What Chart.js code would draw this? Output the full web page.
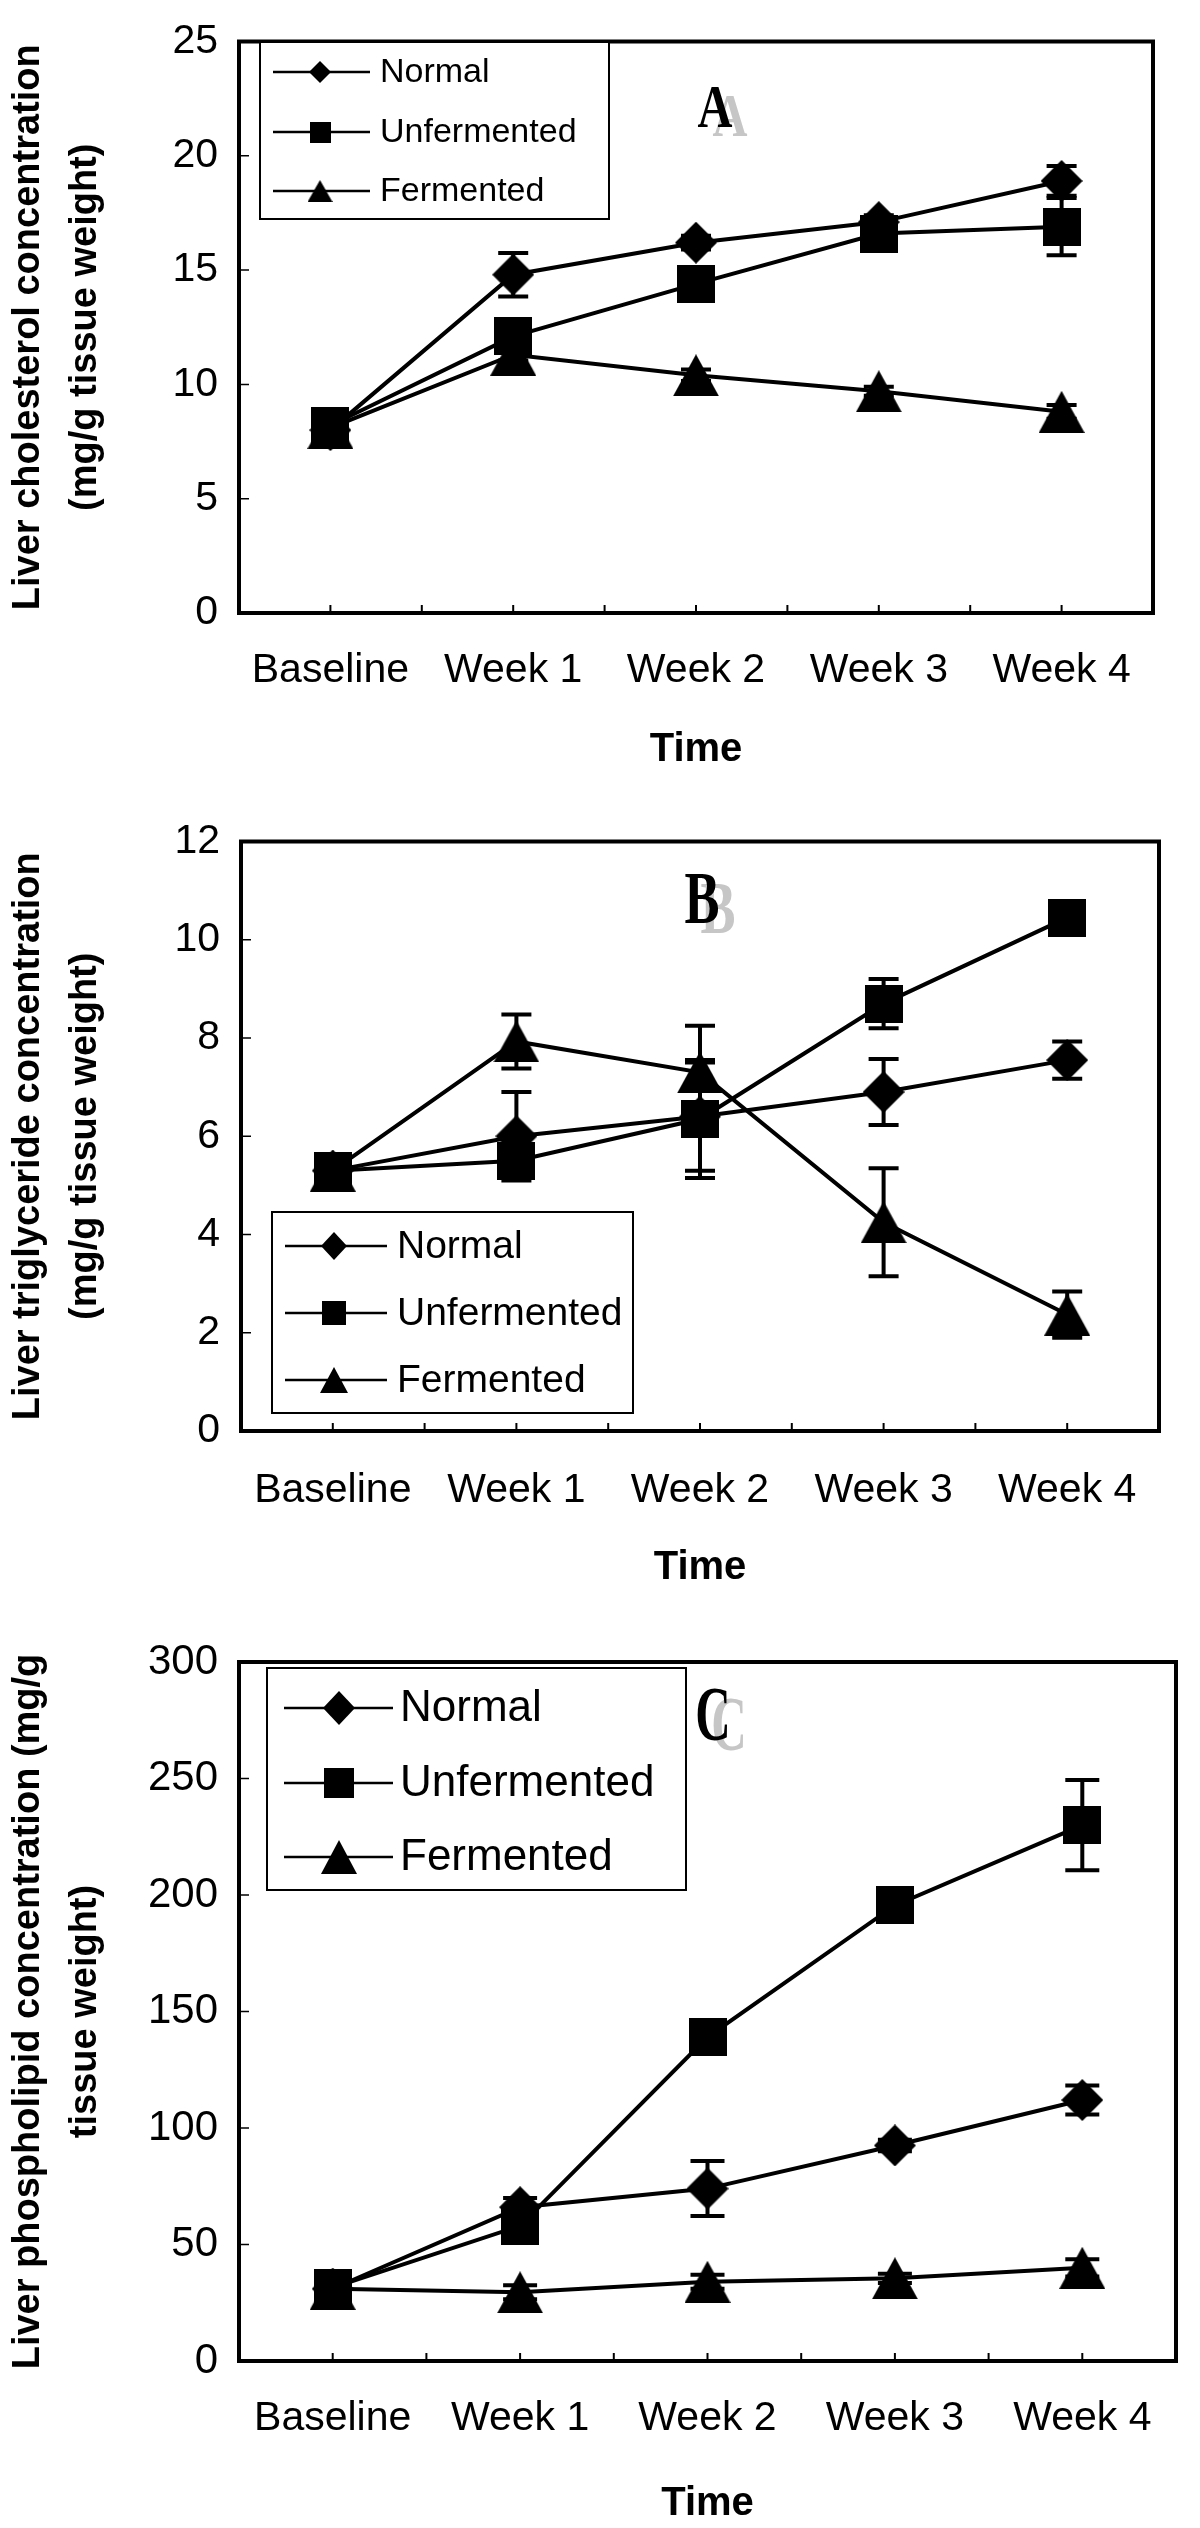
<!DOCTYPE html>
<html>
<head>
<meta charset="utf-8">
<script src="https://cdn.jsdelivr.net/npm/chart.js@4.4.0/dist/chart.umd.min.js"></script>
<style>
  body { margin: 0; background: #fff; }
  #page { position: relative; width: 1200px; height: 2528px; background: #fff; }
  canvas { position: absolute; left: 0; }
</style>
</head>
<body>
<div id="page">
  <canvas id="chartA" width="1200" height="800" style="top:0"></canvas>
  <canvas id="chartB" width="1200" height="820" style="top:800px"></canvas>
  <canvas id="chartC" width="1200" height="908" style="top:1620px"></canvas>
</div>
<script>
// categories
const timeLabels = ['Baseline', 'Week 1', 'Week 2', 'Week 3', 'Week 4'];
const groupNames = ['Normal', 'Unfermented', 'Fermented'];

// A - liver cholesterol (mg/g tissue weight)
const cholNormal = [8.0, 14.8, 16.2, 17.1, 18.9];
const cholNormalErr = [0.3, 0.95, 0.3, 0.3, 0.65];
const cholUnferm = [8.2, 12.1, 14.4, 16.6, 16.9];
const cholUnfermErr = [0.3, 0.4, 0.5, 0.3, 1.25];
const cholFerm = [8.1, 11.3, 10.4, 9.7, 8.8];
const cholFermErr = [0.3, 0.25, 0.25, 0.2, 0.3];

// B - liver triglyceride
const tgNormal = [5.3, 6.0, 6.4, 6.9, 7.55];
const tgNormalErr = [0.2, 0.9, 1.1, 0.67, 0.38];
const tgUnferm = [5.3, 5.5, 6.35, 8.7, 10.45];
const tgUnfermErr = [0.2, 0.2, 1.2, 0.5, 0.2];
const tgFerm = [5.3, 7.93, 7.3, 4.25, 2.37];
const tgFermErr = [0.2, 0.55, 0.95, 1.1, 0.47];

// C - liver phospholipid
const plNormal = [31, 66, 74, 92.5, 112];
const plNormalErr = [3, 4, 11.8, 2.5, 6.2];
const plUnferm = [31.5, 58, 139, 195.5, 230];
const plUnfermErr = [3, 3, 3, 3, 19.4];
const plFerm = [31, 29.5, 34, 35.5, 40];
const plFermErr = [3, 3, 3, 2, 3.7];

const SANS = "'Liberation Sans', Arial, sans-serif";
Chart.defaults.font.family = SANS;
Chart.defaults.color = '#000';

function marker(shape, w, h) {
  const c = document.createElement('canvas');
  c.width = w; c.height = h;
  const g = c.getContext('2d');
  g.fillStyle = '#000';
  g.beginPath();
  if (shape === 'diamond') {
    g.moveTo(w / 2, 0); g.lineTo(w, h / 2); g.lineTo(w / 2, h); g.lineTo(0, h / 2);
  } else if (shape === 'square') {
    g.rect(0, 0, w, h);
  } else {
    g.moveTo(w / 2, 0); g.lineTo(w, h); g.lineTo(0, h);
  }
  g.closePath();
  g.fill();
  return c;
}

const plotMarkers = [marker('diamond', 42, 42), marker('square', 38, 38), marker('triangle', 46, 42)];

// box around plot area + inward tick marks
const frame = {
  id: 'frame',
  beforeDatasetsDraw(chart) {
    const {ctx, chartArea: a, scales: {x, y}} = chart;
    ctx.save();
    ctx.strokeStyle = '#000';
    ctx.lineWidth = 1.5;
    ctx.beginPath();
    y.ticks.forEach(t => {
      const py = y.getPixelForValue(t.value);
      ctx.moveTo(a.left, py); ctx.lineTo(a.left + 10, py);
    });
    ctx.stroke();
    ctx.lineWidth = 2;
    ctx.beginPath();
    const n = x.ticks.length;
    for (let i = 0; i < n; i++) {
      const px = x.getPixelForTick(i);
      ctx.moveTo(px, a.bottom); ctx.lineTo(px, a.bottom - 8);
      if (i > 0) {
        const mid = (px + x.getPixelForTick(i - 1)) / 2;
        ctx.moveTo(mid, a.bottom); ctx.lineTo(mid, a.bottom - 8);
      }
    }
    ctx.stroke();
    ctx.lineWidth = 4;
    ctx.strokeRect(a.left, a.top, a.right - a.left, a.bottom - a.top);
    ctx.restore();
  }
};

const errorBars = {
  id: 'errorBars',
  beforeDatasetsDraw(chart, args, opts) {
    const ctx = chart.ctx, y = chart.scales.y;
    ctx.save();
    ctx.strokeStyle = '#000';
    ctx.lineWidth = 4;
    chart.data.datasets.forEach((ds, i) => {
      chart.getDatasetMeta(i).data.forEach((pt, j) => {
        const v = ds.data[j], e = ds.errors[j];
        const top = y.getPixelForValue(v + e), bot = y.getPixelForValue(v - e);
        ctx.beginPath();
        ctx.moveTo(pt.x, top); ctx.lineTo(pt.x, bot);
        ctx.moveTo(pt.x - opts.cap, top); ctx.lineTo(pt.x + opts.cap, top);
        ctx.moveTo(pt.x - opts.cap, bot); ctx.lineTo(pt.x + opts.cap, bot);
        ctx.stroke();
      });
    });
    ctx.restore();
  }
};

const boxLegend = {
  id: 'boxLegend',
  afterDatasetsDraw(chart, args, o) {
    const ctx = chart.ctx;
    ctx.save();
    ctx.fillStyle = '#fff';
    ctx.fillRect(o.box[0], o.box[1], o.box[2], o.box[3]);
    ctx.strokeStyle = '#000';
    ctx.lineWidth = 2;
    ctx.strokeRect(o.box[0], o.box[1], o.box[2], o.box[3]);
    ctx.font = o.fontSize + 'px ' + SANS;
    ctx.textBaseline = 'middle';
    ctx.fillStyle = '#000';
    chart.data.datasets.forEach((ds, i) => {
      const yy = o.rows[i];
      ctx.lineWidth = 2.5;
      ctx.beginPath(); ctx.moveTo(o.line[0], yy); ctx.lineTo(o.line[1], yy); ctx.stroke();
      const m = o.markers[i];
      ctx.drawImage(m, o.mx - m.width / 2, yy - m.height / 2);
      ctx.fillText(ds.label, o.tx, yy + 1);
    });
    ctx.restore();
  }
};

const panelLetter = {
  id: 'panelLetter',
  afterDraw(chart, args, o) {
    const ctx = chart.ctx;
    ctx.save();
    ctx.font = 'bold ' + o.size + "px 'Liberation Serif', 'Times New Roman', serif";
    ctx.textAlign = 'center';
    ctx.textBaseline = 'alphabetic';
    [[o.dx, o.dy, '#c6c6c6'], [0, 0, '#000']].forEach(([dx, dy, col]) => {
      ctx.save();
      ctx.translate(o.x + dx, o.y + dy);
      ctx.scale(o.sx, 1);
      ctx.fillStyle = col;
      ctx.fillText(o.text, 0, 0);
      ctx.restore();
    });
    ctx.restore();
  }
};

function makeChart(id, p) {
  const sets = [
    [groupNames[0], p.normal, p.normalErr],
    [groupNames[1], p.unferm, p.unfermErr],
    [groupNames[2], p.ferm, p.fermErr]
  ];
  return new Chart(document.getElementById(id), {
    type: 'line',
    data: {
      labels: timeLabels,
      datasets: sets.map((s, i) => ({
        label: s[0],
        data: s[1],
        errors: s[2],
        borderColor: '#000',
        borderWidth: 4,
        tension: 0,
        fill: false,
        pointStyle: plotMarkers[i],
        pointRadius: 20,
        pointHoverRadius: 20
      }))
    },
    options: {
      responsive: false,
      animation: false,
      events: [],
      layout: { padding: { left: 0, top: p.top, right: 1200 - p.right, bottom: 0 } },
      scales: {
        x: {
          type: 'category',
          offset: true,
          grid: { display: false, drawTicks: false },
          border: { display: false },
          ticks: { padding: p.xPad, autoSkip: false, maxRotation: 0, color: '#000',
                   font: { size: 41, lineHeight: 1.2 } },
          title: { display: true, text: 'Time', color: '#000',
                   font: { size: 40, weight: 'bold', lineHeight: 1.2 },
                   padding: { top: 0, bottom: p.timePad } },
          afterFit: s => { s.height = p.h - p.bottom; }
        },
        y: {
          min: 0, max: p.max,
          grid: { display: false, drawTicks: false },
          border: { display: false },
          ticks: { stepSize: p.step, padding: 21, color: '#000',
                   font: { size: p.yFont, lineHeight: 1 } },
          title: { display: true, text: p.yTitle, color: '#000',
                   font: { size: 38, weight: 'bold', lineHeight: 1.5 }, padding: 0 },
          afterFit: s => { s.width = p.left; }
        }
      },
      plugins: {
        legend: { display: false },
        tooltip: { enabled: false },
        errorBars: { cap: p.cap },
        boxLegend: p.legend,
        panelLetter: p.letter
      }
    },
    plugins: [frame, errorBars, boxLegend, panelLetter]
  });
}

makeChart('chartA', {
  h: 800, top: 24, bottom: 613, left: 239, right: 1153,
  max: 25, step: 5, yFont: 41, xPad: 33, timePad: 26, cap: 15,
  yTitle: ['Liver cholesterol concentration', '(mg/g tissue weight)'],
  normal: cholNormal, normalErr: cholNormalErr,
  unferm: cholUnferm, unfermErr: cholUnfermErr,
  ferm: cholFerm, fermErr: cholFermErr,
  legend: { box: [260, 42, 349, 177], rows: [72, 132, 191], line: [273, 370], mx: 320, tx: 380, fontSize: 34,
            markers: [marker('diamond', 22, 22), marker('square', 21, 21), marker('triangle', 25, 22)] },
  letter: { text: 'A', x: 715, y: 127, size: 62, sx: 0.78, dx: 15, dy: 9 }
});

makeChart('chartB', {
  h: 820, top: 38, bottom: 631, left: 241, right: 1159,
  max: 12, step: 2, yFont: 41, xPad: 35, timePad: 28, cap: 15,
  yTitle: ['Liver triglyceride concentration', '(mg/g tissue weight)'],
  normal: tgNormal, normalErr: tgNormalErr,
  unferm: tgUnferm, unfermErr: tgUnfermErr,
  ferm: tgFerm, fermErr: tgFermErr,
  legend: { box: [272, 412, 361, 201], rows: [446, 513, 580], line: [285, 387], mx: 334, tx: 397, fontSize: 39,
            markers: [marker('diamond', 26, 28), marker('square', 24, 24), marker('triangle', 28, 26)] },
  letter: { text: 'B', x: 702, y: 123, size: 75, sx: 0.70, dx: 16, dy: 10 }
});

makeChart('chartC', {
  h: 908, top: 29, bottom: 741, left: 239, right: 1199,
  max: 300, step: 50, yFont: 42, xPad: 33, timePad: 0, cap: 17,
  yTitle: ['Liver phospholipid concentration (mg/g', 'tissue weight)'],
  normal: plNormal, normalErr: plNormalErr,
  unferm: plUnferm, unfermErr: plUnfermErr,
  ferm: plFerm, fermErr: plFermErr,
  legend: { box: [267, 48, 419, 222], rows: [88, 163, 237], line: [284, 393], mx: 339, tx: 400, fontSize: 44,
            markers: [marker('diamond', 32, 34), marker('square', 30, 30), marker('triangle', 36, 34)] },
  letter: { text: 'C', x: 713, y: 120, size: 78, sx: 0.63, dx: 16, dy: 10 }
});
</script>
</body>
</html>
